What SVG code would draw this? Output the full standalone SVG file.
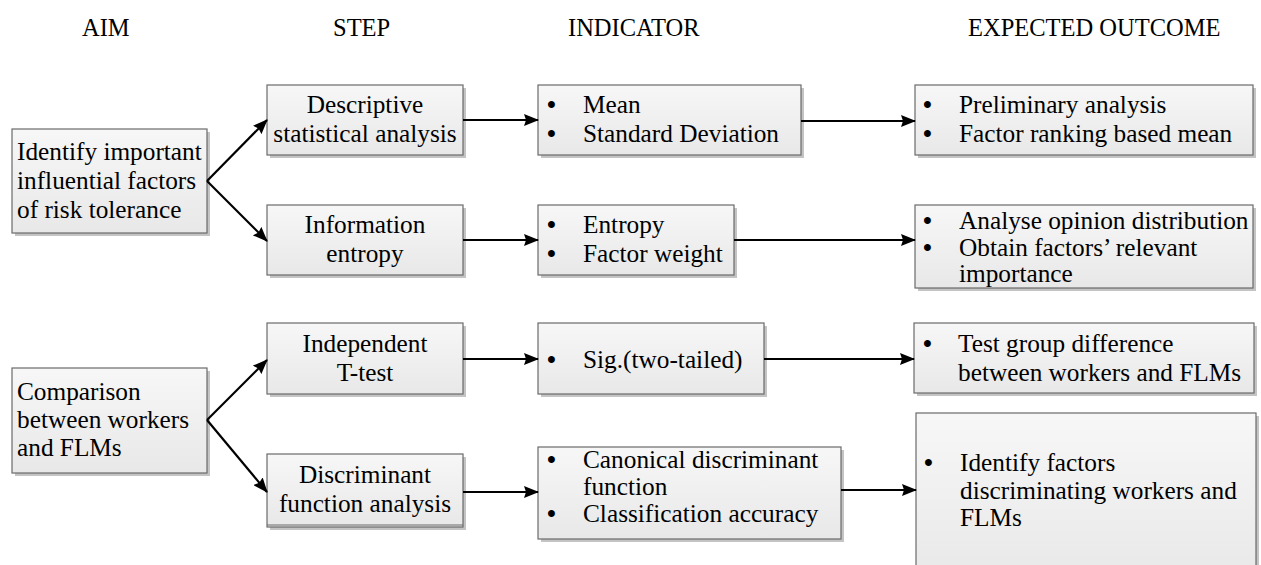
<svg xmlns="http://www.w3.org/2000/svg" width="1261" height="565" viewBox="0 0 1261 565" font-family="'Liberation Serif', 'DejaVu Serif', serif">
  <defs>
    <linearGradient id="boxFill" x1="0" y1="0" x2="0" y2="1">
      <stop offset="0" stop-color="#f7f7f7"/>
      <stop offset="1" stop-color="#e8e8e8"/>
    </linearGradient>
    <marker id="arrow" viewBox="0 0 15 12" refX="14" refY="6" markerWidth="15" markerHeight="12" markerUnits="userSpaceOnUse" orient="auto">
      <path d="M0,0 L15,6 L0,12 L2,6 Z" fill="#000"/>
    </marker>
  </defs>
  <style>
    text { font-family: 'Liberation Serif', 'DejaVu Serif', serif; font-size: 25.3px; fill: #000; }
    .hdr { font-size: 24.5px; }
    .blt { font-size: 25.3px; font-weight: bold; }
    .shadow { fill: #c4c4c4; }
    .box { fill: url(#boxFill); stroke: #6a6a6a; stroke-width: 1.2; }
    .mid { text-anchor: middle; }
    .conn { fill: none; stroke: #000; stroke-width: 2.2; marker-end: url(#arrow); }
  </style>

  <!-- column headings -->
  <g id="headings">
    <text class="hdr" x="82" y="36">AIM</text>
    <text class="hdr" x="333" y="36">STEP</text>
    <text class="hdr" x="568" y="36">INDICATOR</text>
    <text class="hdr" x="968" y="36">EXPECTED OUTCOME</text>
  </g>

  <!-- aims -->
  <g id="aim-risk">
    <rect class="shadow" x="15" y="132" width="195" height="104"/>
    <rect class="box" x="12" y="129" width="195" height="104"/>
    <text x="17" y="160">Identify important</text>
    <text x="17" y="189">influential factors</text>
    <text x="17" y="218">of risk tolerance</text>
  </g>
  <g id="aim-compare">
    <rect class="shadow" x="15" y="371" width="195" height="105"/>
    <rect class="box" x="12" y="368" width="195" height="105"/>
    <text x="17" y="400">Comparison</text>
    <text x="17" y="428">between workers</text>
    <text x="17" y="456">and FLMs</text>
  </g>

  <!-- steps -->
  <g id="step-descriptive">
    <rect class="shadow" x="270" y="88" width="196" height="70"/>
    <rect class="box" x="267" y="85" width="196" height="70"/>
    <text class="mid" x="365" y="113">Descriptive</text>
    <text class="mid" x="365" y="142">statistical analysis</text>
  </g>
  <g id="step-entropy">
    <rect class="shadow" x="270" y="208" width="196" height="70"/>
    <rect class="box" x="267" y="205" width="196" height="70"/>
    <text class="mid" x="365" y="233">Information</text>
    <text class="mid" x="365" y="262">entropy</text>
  </g>
  <g id="step-ttest">
    <rect class="shadow" x="270" y="326" width="196" height="71"/>
    <rect class="box" x="267" y="323" width="196" height="71"/>
    <text class="mid" x="365" y="352">Independent</text>
    <text class="mid" x="365" y="381">T-test</text>
  </g>
  <g id="step-discriminant">
    <rect class="shadow" x="270" y="457" width="196" height="73"/>
    <rect class="box" x="267" y="454" width="196" height="73"/>
    <line x1="267" y1="525" x2="463" y2="525" stroke="#6a6a6a" stroke-width="1"/>
    <text class="mid" x="365" y="483">Discriminant</text>
    <text class="mid" x="365" y="512">function analysis</text>
  </g>

  <!-- indicators -->
  <g id="ind-mean">
    <rect class="shadow" x="541" y="88" width="263" height="70"/>
    <rect class="box" x="538" y="85" width="263" height="70"/>
    <text class="blt" x="547" y="113">•</text><text x="583" y="113">Mean</text>
    <text class="blt" x="547" y="142">•</text><text x="583" y="142">Standard Deviation</text>
  </g>
  <g id="ind-entropy">
    <rect class="shadow" x="541" y="208" width="196" height="70"/>
    <rect class="box" x="538" y="205" width="196" height="70"/>
    <text class="blt" x="547" y="233">•</text><text x="583" y="233">Entropy</text>
    <text class="blt" x="547" y="262">•</text><text x="583" y="262">Factor weight</text>
  </g>
  <g id="ind-sig">
    <rect class="shadow" x="541" y="326" width="226" height="71"/>
    <rect class="box" x="538" y="323" width="226" height="71"/>
    <text class="blt" x="547" y="368">•</text><text x="583" y="368">Sig.(two-tailed)</text>
  </g>
  <g id="ind-canonical">
    <rect class="shadow" x="541" y="450" width="303" height="92"/>
    <rect class="box" x="538" y="447" width="303" height="92"/>
    <text class="blt" x="547" y="468">•</text><text x="583" y="468">Canonical discriminant</text>
    <text x="583" y="495">function</text>
    <text class="blt" x="547" y="522">•</text><text x="583" y="522">Classification accuracy</text>
  </g>

  <!-- expected outcomes -->
  <g id="out-preliminary">
    <rect class="shadow" x="918" y="88" width="338" height="70"/>
    <rect class="box" x="915" y="85" width="338" height="70"/>
    <text class="blt" x="923" y="113">•</text><text x="959" y="113">Preliminary analysis</text>
    <text class="blt" x="923" y="142">•</text><text x="959" y="142">Factor ranking based mean</text>
  </g>
  <g id="out-opinion">
    <rect class="shadow" x="918" y="208" width="338" height="83"/>
    <rect class="box" x="915" y="205" width="338" height="83"/>
    <text class="blt" x="923" y="229">•</text><text x="959" y="229">Analyse opinion distribution</text>
    <text class="blt" x="923" y="256">•</text><text x="959" y="256">Obtain factors’ relevant</text>
    <text x="959" y="282">importance</text>
  </g>
  <g id="out-group">
    <rect class="shadow" x="917" y="326" width="340" height="70"/>
    <rect class="box" x="914" y="323" width="340" height="70"/>
    <text class="blt" x="923" y="352">•</text><text x="958" y="352">Test group difference</text>
    <text x="958" y="381">between workers and FLMs</text>
  </g>
  <g id="out-discriminating">
    <rect class="shadow" x="919" y="416" width="340" height="170"/>
    <rect class="box" x="916" y="413" width="340" height="170"/>
    <text class="blt" x="924" y="471">•</text><text x="960" y="471">Identify factors</text>
    <text x="960" y="499">discriminating workers and</text>
    <text x="960" y="526">FLMs</text>
  </g>

  <!-- connectors -->
  <g id="connectors">
    <line class="conn" x1="207" y1="181" x2="267" y2="120"/>
    <line class="conn" x1="207" y1="181" x2="267" y2="241"/>
    <line class="conn" x1="207" y1="420" x2="267" y2="360"/>
    <line class="conn" x1="207" y1="420" x2="267" y2="492"/>
    <line class="conn" x1="463" y1="120" x2="538" y2="120"/>
    <line class="conn" x1="463" y1="240" x2="538" y2="240"/>
    <line class="conn" x1="463" y1="359" x2="538" y2="359"/>
    <line class="conn" x1="463" y1="492" x2="538" y2="492"/>
    <line class="conn" x1="801" y1="121" x2="915" y2="121"/>
    <line class="conn" x1="734" y1="240" x2="915" y2="240"/>
    <line class="conn" x1="764" y1="359" x2="914" y2="359"/>
    <line class="conn" x1="841" y1="490" x2="916" y2="490"/>
  </g>
</svg>
